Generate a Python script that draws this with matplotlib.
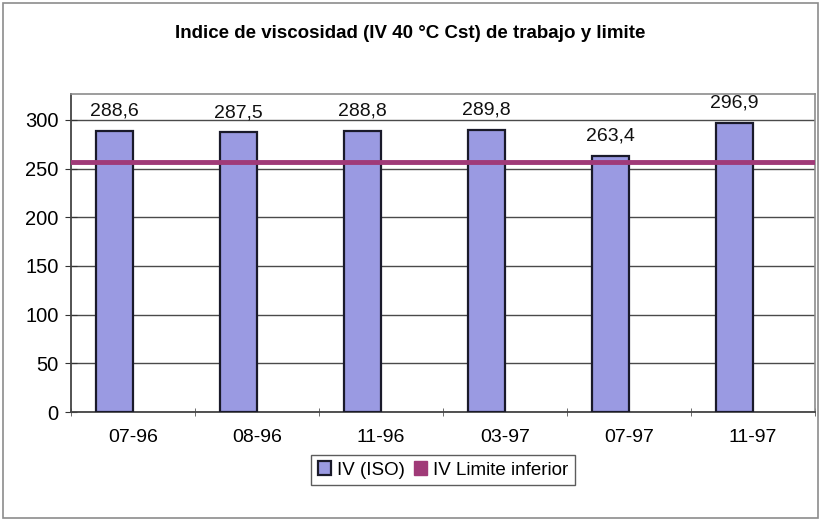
import matplotlib
matplotlib.use("Agg")
import matplotlib.pyplot as plt
from matplotlib.patches import Rectangle, Patch

plt.rcParams['font.family'] = ['Liberation Sans', 'DejaVu Sans']

# Data
categorias = ["07-96", "08-96", "11-96", "03-97", "07-97", "11-97"]
iv_iso = [288.6, 287.5, 288.8, 289.8, 263.4, 296.9]
iv_limite_inferior = 257
etiquetas = ["288,6", "287,5", "288,8", "289,8", "263,4", "296,9"]

W, H = 820, 521
fig = plt.figure(figsize=(W / 100, H / 100), dpi=100)
fig.patch.set_facecolor("white")

# chart border
fig.patches.append(Rectangle((3 / W, 3 / H), 815 / W, 515 / H, transform=fig.transFigure,
                             fill=False, edgecolor="#8c8c8c", lw=1.2))

ax = fig.add_axes([71 / W, 1 - 412 / H, (815 - 71) / W, (412 - 94) / H])
ax.set_xlim(-0.5, len(categorias) - 0.5)
ax.set_ylim(0, 326.7)

x = list(range(len(categorias)))
bw = 0.30
off = -0.148
xb = [i + off for i in x]

# gridlines
ax.set_yticks([0, 50, 100, 150, 200, 250, 300])
ax.yaxis.grid(True, color="#4a4a4a", lw=1.0)
ax.set_axisbelow(True)

ax.bar(xb, iv_iso, width=bw, color="#9a9ae2", edgecolor="#1a1a2a", lw=1.6, zorder=3)
ax.axhline(iv_limite_inferior, color="#a03a78", lw=3.5, zorder=4)

for xi, v, t in zip(xb, iv_iso, etiquetas):
    ax.annotate(t, (xi, v), xytext=(0, 8), textcoords="offset points",
                ha="center", va="bottom", fontsize=14, color="#111111")

ax.set_xticks([i for i in x])
ax.set_xticklabels(categorias, fontsize=14)
ax.set_xticks([i - 0.5 for i in range(len(categorias) + 1)], minor=True)
ax.tick_params(axis="x", which="major", length=0, pad=12)
ax.tick_params(axis="x", which="minor", direction="inout", length=6, color="#555555")
ax.tick_params(axis="y", direction="inout", length=8, labelsize=14.5, pad=5, color="#333333")

for s in ["top", "right"]:
    ax.spines[s].set_color("#8c8c8c")
    ax.spines[s].set_linewidth(1.2)
ax.spines["left"].set_color("#444444")
ax.spines["bottom"].set_color("#444444")
ax.spines["left"].set_linewidth(1.3)
ax.spines["bottom"].set_linewidth(1.3)

fig.text(410 / W, 1 - 33 / H, "Indice de viscosidad (IV 40 °C Cst) de trabajo y limite",
         ha="center", va="center", fontsize=13.5, fontweight="bold")

handles = [Patch(facecolor="#9a9ae2", edgecolor="#1a1a2a", lw=1.6),
           Patch(facecolor="#a03a78", edgecolor="#a03a78")]
leg = fig.legend(handles, ["IV (ISO)", "IV Limite inferior"], loc="center",
                 bbox_to_anchor=(443 / W, 1 - 470 / H), ncol=2, fontsize=13.5,
                 frameon=True, fancybox=False, shadow=False, handlelength=0.7,
                 handleheight=0.7, handletextpad=0.3, columnspacing=0.5,
                 borderpad=0.35, borderaxespad=0)
leg.get_frame().set_edgecolor("#333333")
leg.get_frame().set_linewidth(1.0)

fig.savefig("out.png", dpi=100)
